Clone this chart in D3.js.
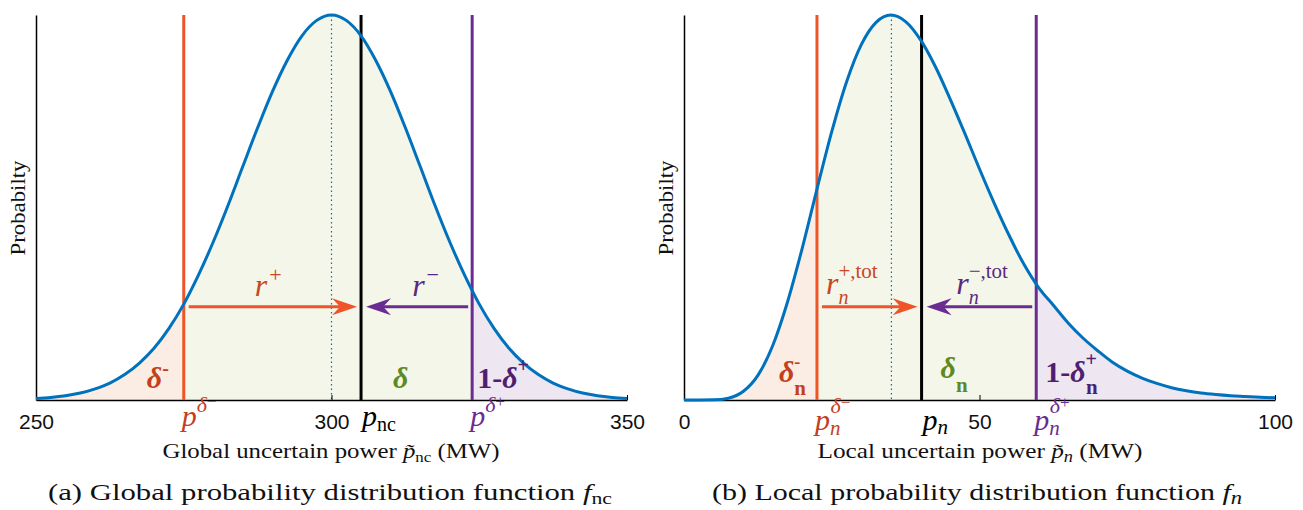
<!DOCTYPE html>
<html><head><meta charset="utf-8">
<script src="https://cdn.jsdelivr.net/npm/d3@7"></script>
<style>body{margin:0;background:#fff} svg{display:block}</style>
</head><body>
<svg id="chart" width="1303" height="510"></svg>
<script>
// ---------- data ----------
const globalX = [250,252.5,255,257.5,260,262.5,265,267.5,270,272.5,275,277.5,280,282.5,285,287.5,290,292.5,295,297.5,300,302.5,305,307.5,310,312.5,315,317.5,320,322.5,325,327.5,330,332.5,335,337.5,340,342.5,345,347.5,350];
const globalDensity = [0.0039,0.0066,0.011,0.018,0.029,0.044,0.066,0.096,0.135,0.186,0.249,0.325,0.411,0.506,0.607,0.707,0.801,0.882,0.946,0.986,1,0.986,0.946,0.882,0.801,0.707,0.607,0.506,0.411,0.325,0.249,0.186,0.135,0.096,0.066,0.044,0.029,0.018,0.011,0.0066,0.0039];
const localX = [0,2.5,5,7.5,10,12.5,15,17.5,20,22.5,25,27.5,30,32.5,35,37.5,40,42.5,45,47.5,50,52.5,55,57.5,60,62.5,65,67.5,70,72.5,75,77.5,80,82.5,85,87.5,90,92.5,95,97.5,100];
const localDensity = [0,0,0.0004,0.0047,0.022,0.064,0.141,0.254,0.394,0.548,0.697,0.826,0.923,0.981,1,0.983,0.936,0.867,0.783,0.693,0.600,0.511,0.428,0.353,0.292,0.246,0.200,0.161,0.128,0.098,0.075,0.057,0.043,0.032,0.024,0.018,0.014,0.011,0.009,0.007,0.006];
const globalTicks = [250, 300, 350];
const localTicks = [0, 50, 100];
const globalDomain = [250, 350];
const localDomain = [0, 100];
// lower quantile, nominal, upper quantile
const globalMarkers = [275, 305, 323.8];
const localMarkers = [22.5, 40.2, 59.6];
const globalMode = 300;
const localMode = 35.1;
const arrowLevel = 0.242;

// ---------- styles ----------
const SERIF = "'Liberation Serif', 'DejaVu Serif', serif";
const SANS = "'Liberation Sans', Arial, sans-serif";
const C = {
  curve: "#0072BD",
  orange: "#EE5428", purple: "#6B2C91",
  orangeText: "#C4401C", purpleText: "#4E1F70", greenText: "#5E8A1F",
  rOrange: "#C9471F", rPurple: "#5A2A80",
  fillO: "#FBEDE3", fillG: "#F3F6E9", fillP: "#EEE7F2"
};

const svg = d3.select("#chart");
const defs = svg.append("defs");

function mathText(g, x, y, parts, opts) {
  const t = g.append("text").attr("x", x).attr("y", y)
    .attr("font-family", opts.family || SERIF).attr("fill", opts.color)
    .attr("font-size", opts.size).attr("text-anchor", opts.anchor || "start");
  if (opts.len) t.attr("textLength", opts.len).attr("lengthAdjust", "spacingAndGlyphs");
  let cur = 0;
  parts.forEach(p => {
    const s = t.append("tspan").text(p.t);
    const off = p.off || 0;
    s.attr("dy", off - cur); cur = off;
    if (p.it) s.attr("font-style", "italic");
    if (p.b) s.attr("font-weight", "bold");
    if (p.fs) s.attr("font-size", p.fs);
    if (p.dx) s.attr("dx", p.dx);
  });
  return t;
}

function drawPanel(cfg) {
  const g = svg.append("g");
  const x = d3.scaleLinear().domain(cfg.domain).range(cfg.xr);
  const y = d3.scaleLinear().domain([0, 1]).range([400, 15]);
  const pts = cfg.xs.map((v, i) => [v, cfg.ys[i]]);
  const area = d3.area().x(d => x(d[0])).y0(y(0)).y1(d => y(d[1])).curve(d3.curveMonotoneX);
  const line = d3.line().x(d => x(d[0])).y(d => y(d[1])).curve(d3.curveMonotoneX);
  const [lo, nom, hi] = cfg.markers;

  const regions = [
    [cfg.domain[0], lo, C.fillO],
    [lo, hi, C.fillG],
    [hi, cfg.domain[1], C.fillP]
  ];
  regions.forEach((r, i) => {
    const id = cfg.id + "clip" + i;
    defs.append("clipPath").attr("id", id).append("rect")
      .attr("x", x(r[0])).attr("y", 0).attr("width", x(r[1]) - x(r[0])).attr("height", 400);
    g.append("path").datum(pts).attr("d", area).attr("fill", r[2]).attr("clip-path", `url(#${id})`);
  });

  // mode dotted line
  g.append("line").attr("x1", x(cfg.mode)).attr("x2", x(cfg.mode))
    .attr("y1", y(1)).attr("y2", y(0))
    .attr("stroke", C.curve).attr("stroke-width", 1.2).attr("stroke-dasharray", "1.5,3");

  // axes
  const xAxis = d3.axisBottom(x).tickValues(cfg.ticks).tickFormat(d3.format("d"))
    .tickSizeInner(-5).tickSizeOuter(0).tickPadding(14);
  const ax = g.append("g").attr("transform", `translate(0,${y(0)})`).call(xAxis);
  ax.select(".domain").attr("stroke", "#000").attr("stroke-width", 1.5);
  ax.selectAll(".tick line").attr("stroke", "#000").attr("stroke-width", 1);
  ax.selectAll(".tick text").attr("font-family", SANS).attr("font-size", 21).attr("fill", "#111");
  const yAxis = d3.axisLeft(y).tickValues([]).tickSizeOuter(0);
  const ay = g.append("g").attr("transform", `translate(${cfg.xr[0]},0)`).call(yAxis);
  ay.select(".domain").attr("stroke", "#000").attr("stroke-width", 1.5);

  // vertical marker lines
  [[lo, C.orange], [nom, "#000"], [hi, C.purple]].forEach(m => {
    g.append("line").attr("x1", x(m[0])).attr("x2", x(m[0]))
      .attr("y1", y(1)).attr("y2", y(0)).attr("stroke", m[1]).attr("stroke-width", 3);
  });

  // density curve
  g.append("path").datum(pts).attr("d", line).attr("fill", "none")
    .attr("stroke", C.curve).attr("stroke-width", 3);

  // arrows
  const ay0 = y(arrowLevel);
  function arrow(x0, x1, color) {
    const dir = x1 > x0 ? 1 : -1;
    g.append("line").attr("x1", x0).attr("x2", x1 - dir * 12).attr("y1", ay0).attr("y2", ay0)
      .attr("stroke", color).attr("stroke-width", 3);
    const p = d3.path();
    p.moveTo(x1, ay0);
    p.lineTo(x1 - dir * 25, ay0 - 8.5);
    p.lineTo(x1 - dir * 17, ay0);
    p.lineTo(x1 - dir * 25, ay0 + 8.5);
    p.closePath();
    g.append("path").attr("d", p.toString()).attr("fill", color);
  }
  arrow(x(lo) + 5, x(nom) - 4, C.orange);
  arrow(x(hi) - 4, x(nom) + 5, C.purple);

  cfg.labels(g, x, y);
  return g;
}

// ---------- left panel ----------
drawPanel({
  id: "g", domain: globalDomain, xr: [36, 627], xs: globalX, ys: globalDensity,
  ticks: globalTicks, markers: globalMarkers, mode: globalMode,
  labels: (g, x, y) => {
    const [lo, nom, hi] = globalMarkers;
    mathText(g, x(lo) + 71, 296, [{t: "r", it: true}, {t: "+", off: -14, fs: 22, dx: 2}], {color: C.rOrange, size: 32});
    mathText(g, x(hi) - 60, 296, [{t: "r", it: true}, {t: "\u2212", off: -14, fs: 22, dx: 2}], {color: C.rPurple, size: 32});
    mathText(g, x(lo) - 37, 388, [{t: "\u03B4", it: true, b: true}, {t: "-", b: true, off: -13, fs: 20, dx: 0}], {color: C.orangeText, size: 30});
    mathText(g, x(nom) + 32, 388, [{t: "\u03B4", it: true, b: true}], {color: C.greenText, size: 30});
    mathText(g, x(hi) + 5, 388, [{t: "1-", b: true}, {t: "\u03B4", it: true, b: true}, {t: "+", b: true, off: -16, fs: 20}], {color: C.purpleText, size: 30});
    // axis math labels
    mathText(g, x(lo) - 2, 426, [{t: "p", it: true}, {t: "\u03B4", it: true, off: -14, fs: 22}, {t: "\u2212", off: -19, fs: 17}], {color: C.orangeText, size: 30});
    mathText(g, x(nom) + 1, 426, [{t: "p", it: true}, {t: "nc", off: 5, fs: 20}], {color: "#000", size: 30});
    mathText(g, x(hi) - 2, 426, [{t: "p", it: true}, {t: "\u03B4", it: true, off: -14, fs: 22}, {t: "+", off: -19, fs: 17}], {color: C.purple, size: 30});
    // axis title & caption
    mathText(g, 331, 458, [{t: "Global uncertain power "}, {t: "p\u0303", it: true}, {t: "nc", off: 4, fs: 15}, {t: " (MW)", off: 0}], {color: "#111", size: 22, anchor: "middle", len: 337});
    mathText(g, 330, 500, [{t: "(a) Global probability distribution function "}, {t: "f", it: true}, {t: "nc", off: 4, fs: 17}], {color: "#111", size: 24, anchor: "middle", len: 564});
    g.append("text").attr("transform", "translate(25,208) rotate(-90)").attr("text-anchor", "middle")
      .attr("font-family", SERIF).attr("font-size", 22).attr("fill", "#111")
      .attr("textLength", 95).attr("lengthAdjust", "spacingAndGlyphs").text("Probabilty");
  }
});

// ---------- right panel ----------
drawPanel({
  id: "l", domain: localDomain, xr: [684, 1275], xs: localX, ys: localDensity,
  ticks: localTicks, markers: localMarkers, mode: localMode,
  labels: (g, x, y) => {
    const [lo, nom, hi] = localMarkers;
    mathText(g, x(lo) + 9, 294, [{t: "r", it: true}, {t: "n", it: true, off: 10, fs: 20}, {t: "+,tot", off: -16, fs: 21, dx: -10}], {color: C.rOrange, size: 32});
    mathText(g, x(hi) - 80, 294, [{t: "r", it: true}, {t: "n", it: true, off: 10, fs: 20}, {t: "\u2212,tot", off: -16, fs: 21, dx: -10}], {color: C.rPurple, size: 32});
    mathText(g, x(lo) - 38, 382, [{t: "\u03B4", it: true, b: true}, {t: "-", b: true, off: -14, fs: 18}, {t: "n", b: true, off: 13, fs: 21, dx: -6}], {color: C.orangeText, size: 30});
    mathText(g, x(nom) + 19, 378, [{t: "\u03B4", it: true, b: true}, {t: "n", b: true, off: 14, fs: 21, dx: 0}], {color: C.greenText, size: 30});
    mathText(g, x(hi) + 9, 382, [{t: "1-", b: true}, {t: "\u03B4", it: true, b: true}, {t: "+", b: true, off: -16, fs: 20}, {t: "n", b: true, off: 12, fs: 21, dx: -11}], {color: C.purpleText, size: 30});
    mathText(g, x(lo) - 2, 430, [{t: "p", it: true}, {t: "n", it: true, off: 5, fs: 21}, {t: "\u03B4", it: true, off: -17, fs: 22, dx: -10}, {t: "\u2212", off: -22, fs: 17}], {color: C.orangeText, size: 30});
    mathText(g, x(nom) + 1, 430, [{t: "p", it: true}, {t: "n", it: true, off: 4, fs: 21}], {color: "#000", size: 30});
    mathText(g, x(hi) - 2, 430, [{t: "p", it: true}, {t: "n", it: true, off: 5, fs: 21}, {t: "\u03B4", it: true, off: -17, fs: 22, dx: -10}, {t: "+", off: -22, fs: 17}], {color: C.purple, size: 30});
    mathText(g, 980, 458, [{t: "Local uncertain power "}, {t: "p\u0303", it: true}, {t: "n", it: true, off: 4, fs: 16}, {t: " (MW)", off: 0}], {color: "#111", size: 22, anchor: "middle", len: 325});
    mathText(g, 977, 500, [{t: "(b) Local probability distribution function "}, {t: "f", it: true}, {t: "n", it: true, off: 4, fs: 18}], {color: "#111", size: 24, anchor: "middle", len: 530});
    g.append("text").attr("transform", "translate(673,208) rotate(-90)").attr("text-anchor", "middle")
      .attr("font-family", SERIF).attr("font-size", 22).attr("fill", "#111")
      .attr("textLength", 95).attr("lengthAdjust", "spacingAndGlyphs").text("Probabilty");
  }
});
</script>
</body></html>
